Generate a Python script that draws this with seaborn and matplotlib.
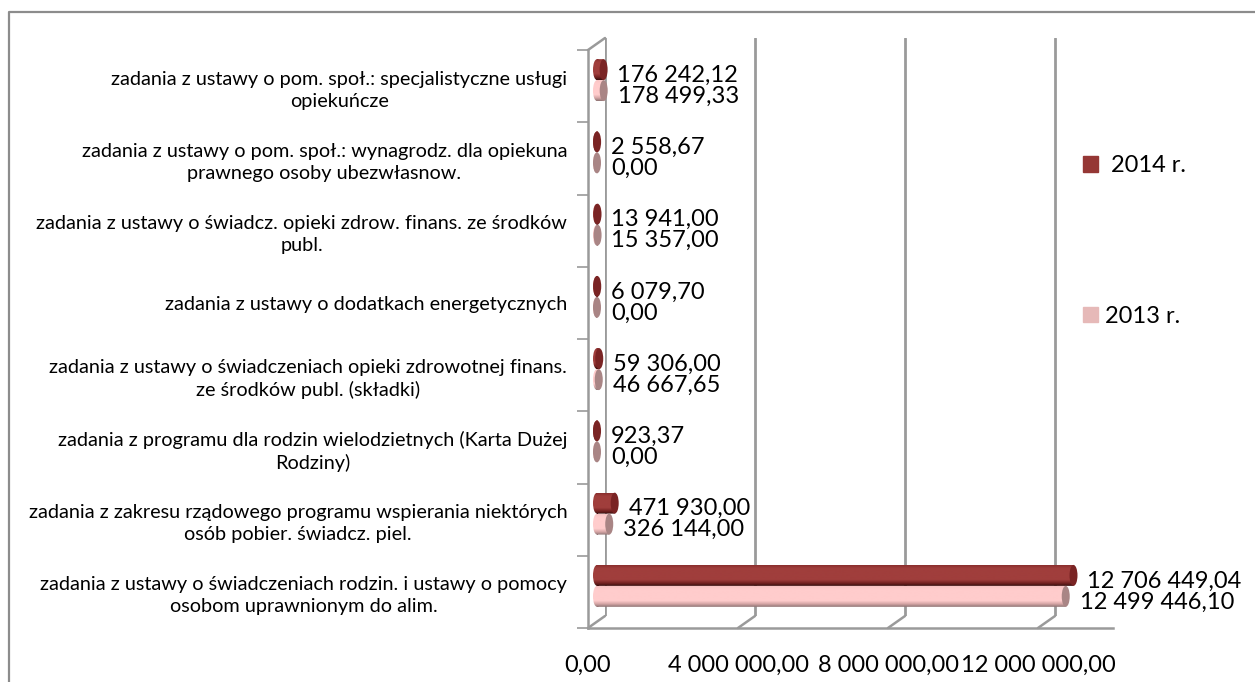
import numpy as np
import pandas as pd
import seaborn as sns
import matplotlib.pyplot as plt
from matplotlib.colors import LinearSegmentedColormap
from matplotlib.lines import Line2D
from matplotlib.patches import Ellipse, Patch
from matplotlib.path import Path
from matplotlib.transforms import IdentityTransform

categories = [
    'zadania z ustawy o pom. społ.: specjalistyczne usługi\nopiekuńcze',
    'zadania z ustawy o pom. społ.: wynagrodz. dla opiekuna\nprawnego osoby ubezwłasnow.',
    'zadania z ustawy o świadcz. opieki zdrow. finans. ze środków\npubl.',
    'zadania z ustawy o dodatkach energetycznych',
    'zadania z ustawy o świadczeniach opieki zdrowotnej finans.\nze środków publ. (składki)',
    'zadania z programu dla rodzin wielodzietnych (Karta Dużej\nRodziny)',
    'zadania z zakresu rządowego programu wspierania niektórych\nosób pobier. świadcz. piel.',
    'zadania z ustawy o świadczeniach rodzin. i ustawy o pomocy\nosobom uprawnionym do alim.',
]
values_2014 = [176242.12, 2558.67, 13941.00, 6079.70, 59306.00, 923.37, 471930.00, 12706449.04]
values_2013 = [178499.33, 0.00, 15357.00, 0.00, 46667.65, 0.00, 326144.00, 12499446.10]
x_ticks = [0, 4000000, 8000000, 12000000]
x_max = 14000000

W, H = 1255, 682
GRAY = '#9a9a9a'
FONT = 'Lato'
LABEL_SIZE = 14.3
VALUE_SIZE = 17
PX = x_max / 525  # data units per pixel


def fmt(v):
    return f'{v:,.2f}'.replace(',', ' ').replace('.', ',')


def make_axes(fig, left, right, top, bottom):
    return fig.add_axes([left / W, 1 - bottom / H, (right - left) / W, (bottom - top) / H])


df = pd.DataFrame({
    'cat': categories * 2,
    'val': values_2014 + values_2013,
    'year': ['2014 r.'] * 8 + ['2013 r.'] * 8,
})

sns.set_theme(style='white')
plt.rcParams['font.family'] = [FONT, 'DejaVu Sans']

fig = plt.figure(figsize=(W / 100, H / 100), dpi=100)
fig.patch.set_facecolor('white')
# chart frame, only the left and top sides are in the picture
fig.add_artist(Line2D([9, 9, W], [0, H - 11.5, H - 11.5], transform=IdentityTransform(),
                      color='#8c8c8c', lw=1.6))

# back wall, shifted up and right to fake the 3d look
wall = make_axes(fig, 605, 1130, 38, 616)
wall.set_xlim(0, x_max)
wall.set_ylim(8, 0)
wall.set_xticks(x_ticks)
wall.set_yticks([])
wall.tick_params(length=0, labelbottom=False)
wall.grid(axis='x', color=GRAY, lw=2)
wall.patch.set_alpha(0)
sns.despine(ax=wall, left=True, bottom=True)

# front axis with ticks and labels
main = make_axes(fig, 588, 1113, 50, 628)
main.set_xlim(0, x_max)
main.set_ylim(8, 0)
main.patch.set_alpha(0)
main.set_xticks(x_ticks)
main.set_xticklabels([fmt(t) for t in x_ticks], fontsize=VALUE_SIZE, color='black')
main.set_yticks(range(9))
main.set_yticklabels([])
main.set_yticks(np.arange(8) + 0.5, categories, minor=True, fontsize=LABEL_SIZE, ma='center',
                color='black', linespacing=1.35)
main.tick_params(axis='x', length=8, width=1.5, color=GRAY, pad=11)
main.tick_params(axis='y', which='major', left=True, length=8, width=1.2, color=GRAY)
main.tick_params(axis='y', which='minor', left=False, length=0, pad=15)
sns.despine(ax=main)
for s in ('left', 'bottom'):
    main.spines[s].set_color(GRAY)
    main.spines[s].set_linewidth(1.8)

# diagonal joints between front axis and wall
for p in [(x, 8) for x in x_ticks] + [(0, 0)]:
    a = main.transData.transform(p)
    b = wall.transData.transform(p)
    fig.add_artist(Line2D([a[0], b[0]], [a[1], b[1]], transform=IdentityTransform(), color=GRAY, lw=1.8))

# bars sit a little in front of the wall, extra room on the left for the round end
bars = make_axes(fig, 587, 1122, 44, 622)
bars.patch.set_alpha(0)
sns.barplot(data=df, y='cat', x='val', hue='year', hue_order=['2014 r.', '2013 r.'],
            palette=['#953735', '#e6b9b8'], width=0.58, gap=0, legend=False, ax=bars, saturation=1)
bars.axis('off')

dark = [(0, '#8a2f2e'), (.15, '#a03e3c'), (.7, '#a03e3c'), (.85, '#7a2524'), (1, '#3c0f0f')]
pale = [(0, '#f8c4c4'), (.15, '#ffcccc'), (.7, '#ffcccc'), (.85, '#d8a8a8'), (1, '#8f7474')]
shades = {
    0: (LinearSegmentedColormap.from_list('d', dark), '#7a2424'),
    1: (LinearSegmentedColormap.from_list('p', pale), '#a98585'),
}
hw = 4 * PX  # half width of the end ellipse
grad = np.linspace(0, 1, 64).reshape(-1, 1)
for i, cont in enumerate(bars.containers):
    cmap, cap = shades[i]
    for rect in cont:
        x0, v = rect.get_x(), rect.get_width()
        y0, h = rect.get_y(), rect.get_height()
        rect.set_visible(False)
        ring = Path.unit_circle()
        ell = Path(ring.vertices * [hw, h / 2] + [x0, y0 + h / 2], ring.codes)
        box = Path([(x0, y0), (x0 + v, y0), (x0 + v, y0 + h), (x0, y0 + h), (x0, y0)],
                   [Path.MOVETO, Path.LINETO, Path.LINETO, Path.LINETO, Path.CLOSEPOLY])
        im = bars.imshow(grad, cmap=cmap, aspect='auto', extent=(x0 - hw, x0 + v, y0 + h, y0), zorder=2)
        im.set_clip_path(Path.make_compound_path(box, ell), bars.transData)
        bars.add_patch(Ellipse((x0 + v, y0 + h / 2), 2 * hw, h, fc=cap, ec='none', zorder=3))
    labs = bars.bar_label(cont, labels=[fmt(r.get_width()) for r in cont], padding=10,
                          fontsize=VALUE_SIZE, color='black', zorder=5, clip_on=False)
    for t in labs:
        t.xyann = (10, -4)
bars.set_xlim(-10 * PX, x_max)
bars.set_ylim(7.5, -0.5)

handles = [Patch(color='#953735', label=' 2014 r.'), Patch(color='#e6b9b8', label='2013 r.')]
fig.legend(handles=handles, loc='center left', bbox_to_anchor=(1083 / W, 1 - 241 / H), frameon=False,
           fontsize=VALUE_SIZE, handlelength=0.635, handleheight=0.635, labelspacing=5.47, handletextpad=0.3,
           labelcolor='black', borderaxespad=0, borderpad=0)

plt.savefig('out.png', dpi=100)
